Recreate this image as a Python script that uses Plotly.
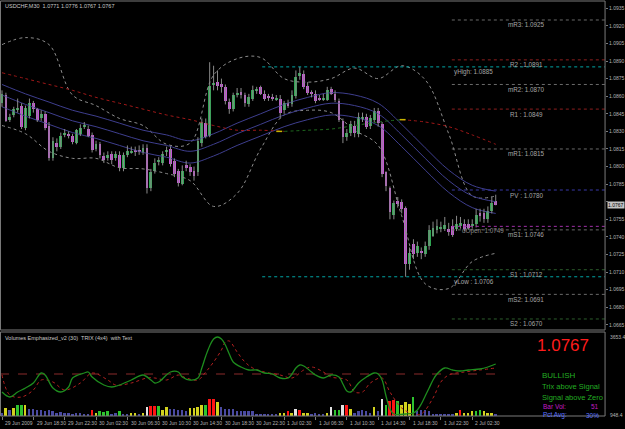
import plotly.graph_objects as go

W, H = 625, 429

# ---------------- data ----------------
title_text = "USDCHF,M30  1.0771 1.0776 1.0767 1.0767"
ind_title = "Volumes Emphasized_v2 (30)  TRIX (4x4)  with Text"

opens = [1.0854, 1.0861, 1.0840, 1.0844, 1.0848, 1.0852, 1.0833, 1.0843, 1.0854, 1.0849,
         1.0841, 1.0845, 1.0835, 1.0807, 1.0820, 1.0817, 1.0827, 1.0828, 1.0826, 1.0820,
         1.0828, 1.0834, 1.0832, 1.0827, 1.0815, 1.0819, 1.0809, 1.0807, 1.0811, 1.0807,
         1.0810, 1.0799, 1.0810, 1.0812, 1.0814, 1.0814, 1.0812, 1.0816, 1.0782, 1.0796,
         1.0804, 1.0803, 1.0812, 1.0815, 1.0805, 1.0796, 1.0785, 1.0801, 1.0800, 1.0796,
         1.0795, 1.0820, 1.0837, 1.0826, 1.0870, 1.0872, 1.0870, 1.0868, 1.0855, 1.0849,
         1.0861, 1.0864, 1.0861, 1.0853, 1.0858, 1.0865, 1.0868, 1.0862, 1.0860, 1.0859,
         1.0857, 1.0858, 1.0848, 1.0854, 1.0853, 1.0860, 1.0877, 1.0879, 1.0869, 1.0863,
         1.0862, 1.0858, 1.0857, 1.0857, 1.0866, 1.0862, 1.0856, 1.0839, 1.0825, 1.0829,
         1.0835, 1.0828, 1.0841, 1.0842, 1.0835, 1.0840, 1.0847, 1.0836, 1.0795, 1.0782,
         1.0759, 1.0771, 1.0770, 1.0765, 1.0717, 1.0734, 1.0726, 1.0728, 1.0725, 1.0732,
         1.0741, 1.0746, 1.0747, 1.0747, 1.0747, 1.0749, 1.0747, 1.0749, 1.0751, 1.0751,
         1.0749, 1.0751, 1.0760, 1.0760, 1.0755, 1.0762, 1.0771]
closes = [1.0862, 1.0839, 1.0842, 1.0849, 1.0850, 1.0834, 1.0850, 1.0854, 1.0849, 1.0840,
          1.0845, 1.0833, 1.0807, 1.0822, 1.0817, 1.0826, 1.0829, 1.0826, 1.0821, 1.0831,
          1.0833, 1.0835, 1.0826, 1.0814, 1.0819, 1.0810, 1.0806, 1.0810, 1.0806, 1.0811,
          1.0799, 1.0810, 1.0813, 1.0813, 1.0812, 1.0812, 1.0816, 1.0782, 1.0795, 1.0803,
          1.0805, 1.0811, 1.0814, 1.0802, 1.0794, 1.0786, 1.0796, 1.0799, 1.0795, 1.0792,
          1.0822, 1.0838, 1.0825, 1.0869, 1.0871, 1.0869, 1.0868, 1.0856, 1.0849, 1.0861,
          1.0863, 1.0861, 1.0854, 1.0859, 1.0865, 1.0866, 1.0862, 1.0858, 1.0859, 1.0858,
          1.0858, 1.0846, 1.0854, 1.0852, 1.0861, 1.0876, 1.0880, 1.0868, 1.0863, 1.0862,
          1.0856, 1.0857, 1.0858, 1.0865, 1.0862, 1.0857, 1.0840, 1.0825, 1.0829, 1.0836,
          1.0829, 1.0842, 1.0842, 1.0834, 1.0841, 1.0847, 1.0837, 1.0794, 1.0783, 1.0761,
          1.0769, 1.0768, 1.0764, 1.0717, 1.0726, 1.0725, 1.0732, 1.0726, 1.0732, 1.0746,
          1.0748, 1.0749, 1.0748, 1.0750, 1.0744, 1.0742, 1.0751, 1.0752, 1.0747, 1.0748,
          1.0751, 1.0759, 1.0758, 1.0755, 1.0762, 1.0769, 1.0767]
highs = [1.0865, 1.0863, 1.0845, 1.0851, 1.0858, 1.0854, 1.0852, 1.0858, 1.0856, 1.0850,
         1.0848, 1.0847, 1.0838, 1.0825, 1.0824, 1.0829, 1.0832, 1.0830, 1.0828, 1.0832,
         1.0836, 1.0838, 1.0835, 1.0829, 1.0822, 1.0821, 1.0812, 1.0813, 1.0813, 1.0813,
         1.0813, 1.0812, 1.0818, 1.0817, 1.0817, 1.0818, 1.0819, 1.0819, 1.0798, 1.0807,
         1.0808, 1.0813, 1.0817, 1.0817, 1.0807, 1.0798, 1.0801, 1.0805, 1.0802, 1.0800,
         1.0825, 1.0841, 1.0841, 1.0889, 1.0886, 1.0882, 1.0875, 1.0870, 1.0858, 1.0863,
         1.0867, 1.0867, 1.0863, 1.0862, 1.0869, 1.0868, 1.0869, 1.0865, 1.0862, 1.0862,
         1.0861, 1.0861, 1.0856, 1.0857, 1.0865, 1.0882, 1.0885, 1.0882, 1.0872, 1.0865,
         1.0865, 1.0861, 1.0862, 1.0868, 1.0868, 1.0865, 1.0858, 1.0841, 1.0832, 1.0839,
         1.0839, 1.0846, 1.0846, 1.0845, 1.0844, 1.0850, 1.0850, 1.0838, 1.0796, 1.0783,
         1.0771, 1.0774, 1.0772, 1.0766, 1.0731, 1.0738, 1.0736, 1.0731, 1.0736, 1.0750,
         1.0753, 1.0755, 1.0753, 1.0757, 1.0752, 1.0755, 1.0758, 1.0757, 1.0755, 1.0755,
         1.0755, 1.0764, 1.0764, 1.0764, 1.0766, 1.0774, 1.0776]
lows = [1.0851, 1.0838, 1.0838, 1.0842, 1.0846, 1.0832, 1.0831, 1.0841, 1.0846, 1.0838,
        1.0839, 1.0831, 1.0805, 1.0805, 1.0813, 1.0815, 1.0825, 1.0824, 1.0819, 1.0819,
        1.0826, 1.0832, 1.0825, 1.0812, 1.0813, 1.0807, 1.0803, 1.0805, 1.0802, 1.0805,
        1.0796, 1.0796, 1.0808, 1.0811, 1.0809, 1.0810, 1.0810, 1.0777, 1.0779, 1.0794,
        1.0801, 1.0801, 1.0809, 1.0800, 1.0791, 1.0783, 1.0784, 1.0796, 1.0792, 1.0788,
        1.0792, 1.0817, 1.0824, 1.0825, 1.0865, 1.0865, 1.0863, 1.0853, 1.0845, 1.0847,
        1.0859, 1.0858, 1.0851, 1.0851, 1.0856, 1.0862, 1.0861, 1.0856, 1.0856, 1.0856,
        1.0856, 1.0841, 1.0845, 1.0850, 1.0851, 1.0858, 1.0874, 1.0866, 1.0861, 1.0859,
        1.0854, 1.0856, 1.0856, 1.0856, 1.0861, 1.0855, 1.0838, 1.0820, 1.0822, 1.0826,
        1.0825, 1.0825, 1.0838, 1.0832, 1.0832, 1.0838, 1.0834, 1.0791, 1.0779, 1.0755,
        1.0755, 1.0765, 1.0760, 1.0706, 1.0712, 1.0721, 1.0723, 1.0721, 1.0723, 1.0729,
        1.0740, 1.0743, 1.0744, 1.0745, 1.0741, 1.0740, 1.0745, 1.0747, 1.0745, 1.0746,
        1.0747, 1.0748, 1.0753, 1.0752, 1.0752, 1.0760, 1.0767]

# indicator samples (every 6th bar)
ind_idx = [0, 6, 12, 18, 24, 30, 36, 42, 48, 54, 60, 66, 72, 78, 84, 90, 96, 102, 108, 114, 120, 126]
env_upper = [1.0870, 1.0862, 1.0855, 1.0848, 1.0843, 1.0837, 1.0831, 1.0827, 1.0822, 1.0828, 1.0837,
             1.0845, 1.0853, 1.0859, 1.0863, 1.0861, 1.0854, 1.0836, 1.0816, 1.0797, 1.0784, 1.0779]
env_mid = [1.0861, 1.0853, 1.0846, 1.0839, 1.0834, 1.0828, 1.0822, 1.0818, 1.0813, 1.0819, 1.0828,
           1.0836, 1.0844, 1.0850, 1.0854, 1.0852, 1.0845, 1.0827, 1.0807, 1.0788, 1.0775, 1.0770]
env_lower = [1.0851, 1.0843, 1.0836, 1.0829, 1.0824, 1.0818, 1.0812, 1.0808, 1.0803, 1.0809, 1.0818,
             1.0826, 1.0834, 1.0840, 1.0844, 1.0842, 1.0835, 1.0817, 1.0797, 1.0778, 1.0765, 1.0760]
bb_upper = [1.0904, 1.0910, 1.0904, 1.0861, 1.0852, 1.0841, 1.0835, 1.0819, 1.0820, 1.0878, 1.0892,
            1.0893, 1.0875, 1.0872, 1.0875, 1.0884, 1.0875, 1.0886, 1.0874, 1.0828, 1.0775, 1.0775]
bb_lower = [1.0835, 1.0828, 1.0813, 1.0807, 1.0807, 1.0799, 1.0798, 1.0794, 1.0788, 1.0766, 1.0777,
            1.0815, 1.0844, 1.0848, 1.0846, 1.0831, 1.0818, 1.0758, 1.0700, 1.0696, 1.0719, 1.0726]
slow_ma = [1.0880, 1.0875, 1.0870, 1.0865, 1.0859, 1.0854, 1.0849, 1.0844, 1.0840, 1.0835, 1.0831,
           1.0831, 1.0830, 1.0831, 1.0832, 1.0835, 1.0838, 1.0840, 1.0838, 1.0834, 1.0827, 1.0819]
ma_up_from, ma_up_to = 72, 102

# pivots
piv_names = ["mR3", "R2", "mR2", "R1", "mR1", "PV", "mS1", "S1", "mS2", "S2"]
piv_vals = [1.0925, 1.0891, 1.0870, 1.0849, 1.0815, 1.0780, 1.0746, 1.0712, 1.0691, 1.0670]
day_start = 115
prev_day_start = 67
y_high, y_low, d_open = 1.0885, 1.0706, 1.0749

# volumes (class: B low, Y avg, G high, R climax, W churn)
volumes = [130, 350, 260, 350, 480, 480, 480, 305, 305, 260,
           260, 220, 260, 220, 130, 175, 130, 130, 90, 130,
           130, 45, 90, 260, 130, 220, 175, 220, 90, 130,
           220, 45, 90, 130, 130, 45, 130, 390, 435, 435,
           435, 260, 390, 305, 305, 260, 260, 220, 350, 350,
           390, 480, 480, 740, 740, 610, 390, 305, 305, 305,
           220, 220, 220, 220, 220, 90, 45, 45, 45, 45,
           45, 130, 130, 220, 130, 305, 260, 130, 130, 45,
           130, 45, 45, 130, 390, 260, 260, 480, 480, 305,
           130, 220, 260, 220, 130, 390, 220, 740, 480, 650,
           695, 650, 480, 610, 520, 825, 220, 260, 260, 220,
           90, 45, 45, 45, 90, 45, 130, 260, 130, 130,
           220, 220, 260, 220, 130, 130, 51]
vol_class = list("BYBYGGYBBB" "BBBBBBBBBB" "BBBRYGGGBB" "GBBYYBYWRR" "GYYBBBBBYY"
                 "YYGRRYBBBB" "BBBBBBBBBB" "BYYRYWRYYB" "BBBYWGGWRY" "BBBBBYBWGR"
                 "RGYYYGBBBB" "BBBBBBYRYY" "YGGYYYB")

trix_x = [0, 2, 4, 6, 8, 10, 11, 13, 15, 17, 18, 21, 22, 23, 26, 28, 30, 33, 36, 38, 39, 40, 43, 45,
          46, 48, 50, 51, 52, 53, 54, 55, 56, 57, 58, 59, 61, 63, 65, 67, 69, 71, 73, 74, 75, 76, 77,
          79, 80, 82, 84, 86, 87, 88, 89, 90, 91, 93, 95, 96, 97, 98, 99, 100, 103, 105, 106, 107,
          108, 109, 110, 111, 113, 115, 117, 119, 122, 124, 126]
trix_v = [-18, -23, -18, -14, -9, 1, -1, -14, -18, -13, -4, 1, 2, -3, -11, -13, -11, -6, -1, -6, -9, -8,
          2, 2, -3, -6, -4, 6, 18, 28, 35, 37, 35, 29, 20, 12, 7, 4, 4, 1, 0, -4, -4, 0, 6, 9, 8, 2,
          -1, -4, -1, -3, -10, -17, -18, -14, -9, -3, 1, 0, -6, -22, -35, -40, -40, -39, -36, -30,
          -22, -14, -6, 0, 6, 4, 3, 4, 5, 7, 10]
sig_x = [0, 2, 5, 8, 10, 13, 16, 20, 23, 27, 29, 33, 37, 39, 42, 45, 47, 50, 52, 54, 56, 57, 58, 60,
         62, 64, 67, 71, 74, 77, 79, 82, 84, 88, 90, 92, 94, 97, 99, 102, 105, 107, 110, 112, 114,
         118, 122, 126]
sig_v = [-1, -21, -23, -16, -6, -8, -16, -9, 1, -6, -11, -9, -4, -4, -6, -1, -4, -6, 2, 12, 24, 32,
         33, 22, 12, 6, 2, -1, -4, 4, 7, 2, -3, -6, -18, -18, -9, -4, -18, -34, -40, -40, -24, -8,
         -1, 2, 4, 6]

tick_idx = [0, 8, 16, 24, 32, 40, 48, 56, 64, 72, 80, 88, 96, 104, 112, 120]
tick_text = ["29 Jun 2009", "29 Jun 18:30", "29 Jun 22:30", "30 Jun 02:30", "30 Jun 06:30",
             "30 Jun 10:30", "30 Jun 14:30", "30 Jun 18:30", "30 Jun 22:30", "1 Jul 02:30",
             "1 Jul 06:30", "1 Jul 10:30", "1 Jul 14:30", "1 Jul 18:30", "1 Jul 22:30", "2 Jul 02:30"]
price_ticks = [1.0665, 1.0680, 1.0695, 1.0710, 1.0725, 1.0740, 1.0755, 1.0770, 1.0785, 1.0800,
               1.0815, 1.0830, 1.0845, 1.0860, 1.0875, 1.0890, 1.0905, 1.0920, 1.0935]
last_price = closes[-1]
bar_vol, pct_avg = 51, "30%"
ind_max, ind_min = "3653.4", "948.4"

# ---------------- helpers ----------------
def px(x):
    return x / W

def py(y):
    return 1 - y / H

FONT = "Liberation Sans, Arial, sans-serif"
BULL, BEAR, WICK = "#2fa552", "#c455d6", "#8a8a8a"
VCOL = {"B": "#4a4aa2", "Y": "#d2d21e", "G": "#2ec42e", "R": "#ff1414", "W": "#e2e2e2"}

n = len(opens)
xs = list(range(n))

fig = go.Figure()

# bands
fig.add_trace(go.Scatter(x=ind_idx, y=bb_upper, mode="lines", line=dict(color="#8c8c8c", width=1, dash="dot", shape="spline"), xaxis="x", yaxis="y"))
fig.add_trace(go.Scatter(x=ind_idx, y=bb_lower, mode="lines", line=dict(color="#8c8c8c", width=1, dash="dot", shape="spline"), xaxis="x", yaxis="y"))
for arr in (env_upper, env_mid, env_lower):
    fig.add_trace(go.Scatter(x=ind_idx, y=arr, mode="lines", line=dict(color="#3e3e8e", width=1, shape="spline"), xaxis="x", yaxis="y"))

# slow MA coloured by slope
k1, k2 = ind_idx.index(ma_up_from), ind_idx.index(ma_up_to)
fig.add_trace(go.Scatter(x=ind_idx[:k1 + 1], y=slow_ma[:k1 + 1], mode="lines", line=dict(color="#a01818", width=1, dash="dot", shape="spline")))
fig.add_trace(go.Scatter(x=ind_idx[k1:k2 + 1], y=slow_ma[k1:k2 + 1], mode="lines", line=dict(color="#1f6a1f", width=1, dash="dot", shape="spline")))
fig.add_trace(go.Scatter(x=ind_idx[k2:], y=slow_ma[k2:], mode="lines", line=dict(color="#a01818", width=1, dash="dot", shape="spline")))
fig.add_trace(go.Scatter(x=[ma_up_from - 2, ma_up_from - 0.5, None, ma_up_to - 0.5, ma_up_to + 1],
                         y=[slow_ma[k1], slow_ma[k1], None, slow_ma[k2], slow_ma[k2]],
                         mode="lines", line=dict(color="#c8b400", width=1.5)))

# wicks
wx, wy = [], []
for i in xs:
    wx += [i, i, None]
    wy += [lows[i], highs[i], None]
fig.add_trace(go.Scatter(x=wx, y=wy, mode="lines", line=dict(color=WICK, width=1), xaxis="x", yaxis="y"))

# bodies
base = [min(o, c) for o, c in zip(opens, closes)]
size = [max(abs(c - o), 0.00008) for o, c in zip(opens, closes)]
bcol = [BULL if c >= o else BEAR for o, c in zip(opens, closes)]
fig.add_trace(go.Bar(x=xs, y=size, base=base, width=0.72, marker=dict(color=bcol, line=dict(width=0)), xaxis="x", yaxis="y"))

# volumes
fig.add_trace(go.Bar(x=xs, y=volumes, width=0.5, marker=dict(color=[VCOL[c] for c in vol_class], line=dict(width=0)), xaxis="x2", yaxis="y2"))
# TRIX
fig.add_trace(go.Scatter(x=[-0.5, n - 1], y=[0, 0], mode="lines", line=dict(color="#8a2a2a", width=1, dash="dash"), xaxis="x2", yaxis="y3"))
fig.add_trace(go.Scatter(x=sig_x, y=sig_v, mode="lines", line=dict(color="#b42020", width=1, dash="dot", shape="spline"), xaxis="x2", yaxis="y3"))
fig.add_trace(go.Scatter(x=trix_x, y=trix_v, mode="lines", line=dict(color="#1e8c1e", width=1.3, shape="spline"), xaxis="x2", yaxis="y3"))

shapes = []
annotations = []
XR = 153.9


def kind_color(name):
    if name.startswith("m"):
        return "#6a6a6a"
    if name.startswith("R"):
        return "#8e1e1e"
    if name.startswith("S"):
        return "#2c5e2c"
    return "#3838a8"


def note(x, y, text, size, color, xanchor="left", xref="paper", yref="paper", **kw):
    d = dict(x=x, y=y, xref=xref, yref=yref, text=text, showarrow=False, xanchor=xanchor,
             yanchor="middle", font=dict(size=size, color=color, family=FONT))
    d.update(kw)
    annotations.append(d)


for name, v in zip(piv_names, piv_vals):
    shapes.append(dict(type="line", xref="x", yref="y", x0=day_start - 0.2, x1=XR, y0=v, y1=v,
                       line=dict(color=kind_color(name), width=1, dash="dot")))
    lab = f"{name}: {v:.4f}" if len(name) == 3 else f"{name} : {v:.4f}"
    note(133.8, v, lab, 6.3, "#a6a6a6", xanchor="center", xref="x", yref="y", yshift=-5)

for v, lab in ((y_high, "yHigh: %.4f" % y_high), (y_low, "yLow : %.4f" % y_low)):
    shapes.append(dict(type="line", xref="x", yref="y", x0=prev_day_start - 0.6, x1=XR, y0=v, y1=v,
                       line=dict(color="#00a4a4", width=1, dash="dot")))
    note(day_start - 0.2, v, lab, 6.3, "#a6a6a6", xref="x", yref="y", yshift=-5)
shapes.append(dict(type="line", xref="x", yref="y", x0=day_start - 0.2, x1=XR, y0=d_open, y1=d_open,
                   line=dict(color="#a030a8", width=1, dash="dot")))
note(day_start + 2, d_open, "dOpen: %.4f" % d_open, 6.3, "#8a8a8a", xref="x", yref="y", yshift=-5)

# frames
for y0, y1 in ((1, 330), (332, 416)):
    shapes.append(dict(type="rect", xref="paper", yref="paper", x0=px(0.5), x1=px(607), y0=py(y1), y1=py(y0),
                       line=dict(color="#7a7a7a", width=1), layer="above"))

# current price box
note(px(609), last_price, "%.4f" % last_price, 5, "#000000", yref="y", bgcolor="#c4c4c4", borderpad=0)

# title texts
note(px(3), py(6), title_text, 5.5, "#c8c8c8")
note(px(3), py(338), ind_title, 5.5, "#c8c8c8")
note(px(610), py(337), ind_max, 5, "#b4b4b4")
note(px(610), py(415), ind_min, 5, "#b4b4b4")

# x labels
for i, t in zip(tick_idx, tick_text):
    note(i + 0.3, py(423), t, 5, "#b4b4b4", xref="x2")

# signal text block
note(px(565), py(345), "%.4f" % last_price, 17, "#ff1c1c", xanchor="center")
for txt, yy, sz in (("BULLISH", 375, 8), ("Trix above Signal", 386, 7.5), ("Signal above Zero", 397, 7.5)):
    note(px(542), py(yy), txt, sz, "#22ac22")
note(px(543), py(406), "Bar Vol:", 6.5, "#c21cc2")
note(px(603), py(406), str(bar_vol), 6.5, "#c21cc2", xanchor="right")
note(px(543), py(415), "Pct Avg:", 6.5, "#5c74ff")
note(px(603), py(415), pct_avg, 6.5, "#5c74ff", xanchor="right")

# the box covers the 1.0770 label, as on the original
tick_labels = ["" if abs(v - 1.0770) < 1e-6 else "%.4f" % v for v in price_ticks]

fig.update_layout(
    width=W, height=H, margin=dict(l=0, r=0, t=0, b=0),
    paper_bgcolor="#000000", plot_bgcolor="#000000",
    showlegend=False, barmode="overlay", bargap=0,
    xaxis=dict(domain=[0, px(607)], range=[-0.51, XR], anchor="y", showticklabels=False, showgrid=False,
               zeroline=False, showline=False, ticks=""),
    yaxis=dict(domain=[py(330), py(1)], range=[1.06606, 1.09412], side="right", anchor="x",
               tickvals=price_ticks, ticktext=tick_labels,
               tickfont=dict(size=5, color="#b4b4b4", family=FONT), ticks="outside", ticklen=2,
               tickcolor="#7a7a7a", showgrid=False, zeroline=False, showline=False),
    xaxis2=dict(domain=[0, px(607)], range=[-0.51, XR], anchor="y2", matches="x", showgrid=False,
                zeroline=False, showline=False, tickvals=tick_idx, ticks="outside", ticklen=3,
                tickcolor="#7a7a7a", showticklabels=False),
    yaxis2=dict(domain=[py(416), py(332)], range=[0, 3653.4], anchor="x2", showticklabels=False,
                showgrid=False, zeroline=False, showline=False),
    yaxis3=dict(overlaying="y2", range=[-42, 42], anchor="x2", visible=False, showgrid=False, zeroline=False),
    shapes=shapes, annotations=annotations,
)

fig.write_html("out.html")
